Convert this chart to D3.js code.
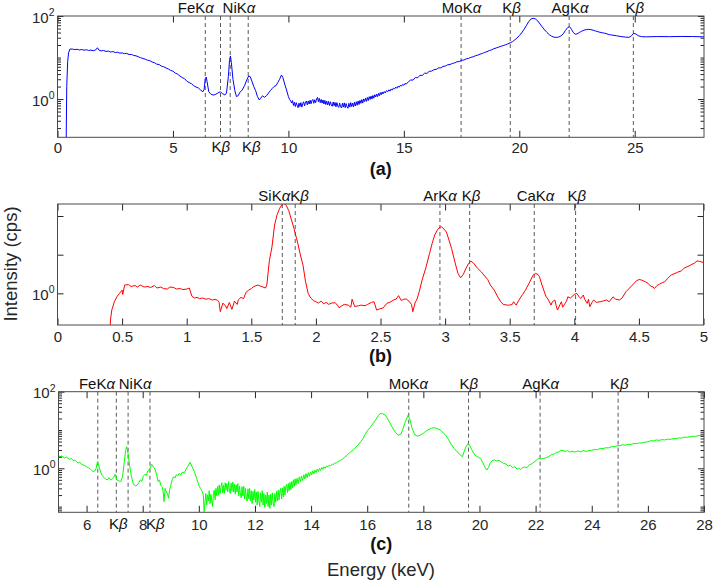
<!DOCTYPE html>
<html><head><meta charset="utf-8">
<script src="https://cdn.jsdelivr.net/npm/d3@7/dist/d3.min.js"></script>
<style>
body{margin:0;background:#fff}
svg{display:block}
text{font-family:"Liberation Sans",Arial,Helvetica,sans-serif}
</style>
</head><body>
<svg id="chart" width="715" height="585"></svg>
<script>
// ---------- DATA ----------
// (a) full spectrum, blue: [energy keV, intensity cps]
const spectrumA = [
[0.37,0.05],[0.40,2.0],[0.44,8],[0.48,13],[0.54,16],[0.65,16.0],[0.75,15.5],[0.85,15.8],[0.95,15.2],[1.05,15.6],
[1.15,15.0],[1.25,15.4],[1.35,14.8],[1.45,15.1],[1.55,14.6],[1.65,15.2],[1.73,17.2],[1.80,15.0],[1.90,14.5],[2.00,14.8],
[2.10,14.0],[2.20,14.3],[2.30,13.6],[2.40,13.9],[2.50,13.2],[2.60,13.4],[2.70,12.8],[2.80,12.9],[2.90,12.4],[3.00,12.6],
[3.10,11.8],[3.20,11.9],[3.30,11.2],[3.40,11.0],[3.50,10.4],[3.60,9.9],[3.70,9.5],[3.80,9.1],[3.90,8.6],[4.00,8.4],
[4.10,7.8],[4.20,7.5],[4.30,6.9],[4.40,6.8],[4.50,6.2],[4.60,6.0],[4.70,5.6],[4.80,5.3],[4.90,4.9],[5.00,4.7],
[5.10,4.2],[5.20,4.0],[5.30,3.6],[5.40,3.3],[5.50,3.1],[5.60,2.7],[5.70,2.5],[5.80,2.35],[5.90,2.1],[6.00,1.95],
[6.10,1.85],[6.20,1.65],[6.30,1.5],[6.35,1.7],[6.40,3.1],[6.44,3.4],[6.48,2.6],[6.55,1.5],[6.65,1.3],[6.75,1.25],
[6.85,1.3],[6.95,1.4],[7.05,1.5],[7.15,1.35],[7.25,1.25],[7.32,1.4],[7.40,3.5],[7.45,8.5],[7.49,10.9],[7.53,7.5],
[7.60,3.0],[7.68,1.6],[7.75,1.15],[7.82,1.2],[7.90,1.45],[8.00,1.65],[8.10,2.1],[8.20,2.9],[8.28,3.6],[8.34,3.5],
[8.42,2.7],[8.50,2.0],[8.58,1.6],[8.66,1.15],[8.74,0.95],[8.80,1.05],[8.88,1.2],[8.96,1.1],[9.05,1.2],[9.14,1.4],
[9.22,1.6],[9.30,1.8],[9.38,2.0],[9.46,2.1],[9.54,2.5],[9.62,3.0],[9.70,3.8],[9.76,3.3],[9.84,2.3],[9.92,1.65],
[10.00,1.15],[10.05,0.98],[10.10,0.90],[10.14,0.80],[10.18,0.92],[10.22,0.70],[10.26,0.84],[10.30,0.66],[10.34,0.82],[10.38,0.70],
[10.42,0.62],[10.46,0.80],[10.50,0.66],[10.54,0.82],[10.58,0.64],[10.62,0.78],[10.66,0.86],[10.70,0.68],[10.74,0.84],[10.78,0.90],
[10.82,0.72],[10.86,0.90],[10.90,0.76],[10.94,0.94],[10.98,0.77],[11.02,0.92],[11.06,0.98],[11.10,0.79],[11.14,0.96],[11.18,0.82],
[11.22,1.0],[11.26,1.1],[11.30,0.86],[11.34,1.04],[11.38,0.82],[11.42,0.98],[11.46,0.80],[11.50,0.95],[11.54,0.76],[11.58,0.93],
[11.62,0.74],[11.66,0.89],[11.70,0.72],[11.74,0.88],[11.78,0.70],[11.82,0.86],[11.86,0.72],[11.90,0.67],[11.94,0.85],[11.98,0.69],
[12.02,0.83],[12.06,0.65],[12.10,0.82],[12.14,0.68],[12.18,0.63],[12.22,0.80],[12.26,0.66],[12.30,0.61],[12.34,0.79],[12.38,0.64],
[12.42,0.81],[12.46,0.62],[12.50,0.78],[12.54,0.65],[12.58,0.60],[12.62,0.79],[12.66,0.64],[12.70,0.82],[12.74,0.66],[12.78,0.80],
[12.82,0.65],[12.86,0.84],[12.90,0.68],[12.94,0.86],[12.98,0.71],[13.02,0.90],[13.06,0.74],[13.10,0.93],[13.14,0.79],[13.18,0.97],
[13.22,0.80],[13.26,1.01],[13.30,0.87],[13.34,1.05],[13.38,0.88],[13.42,1.09],[13.46,0.92],[13.50,1.14],[13.54,0.98],[13.58,1.18],
[13.62,1.0],[13.66,1.22],[13.70,1.05],[13.74,1.27],[13.78,1.12],[13.82,1.32],[13.86,1.14],[13.90,1.37],[13.94,1.2],[13.98,1.43],
[14.02,1.27],[14.06,1.48],[14.10,1.33],[14.15,1.52],[14.20,1.40],[14.25,1.6],[14.30,1.5],[14.35,1.67],[14.40,1.55],[14.45,1.75],
[14.50,1.64],[14.55,1.84],[14.60,1.75],[14.65,1.94],[14.70,1.82],[14.75,2.04],[14.80,1.93],[14.85,2.14],[14.90,2.05],[14.95,2.26],
[15.00,2.15],[15.05,2.38],[15.10,2.28],[15.20,2.62],[15.30,2.88],[15.40,2.86],[15.50,3.3],[15.60,3.25],[15.70,3.75],[15.80,3.7],
[15.90,4.2],[16.00,4.15],[16.10,4.65],[16.20,4.7],[16.30,5.1],[16.40,5.15],[16.50,5.6],[16.60,5.65],[16.70,6.1],[16.80,6.25],
[16.90,6.7],[17.00,6.8],[17.10,7.2],[17.20,7.4],[17.30,7.9],[17.40,8.0],[17.50,8.6],[17.60,8.7],[17.70,9.3],[17.80,9.5],
[17.90,10.1],[18.00,10.4],[18.10,11.0],[18.20,11.4],[18.30,12.1],[18.40,12.5],[18.50,13.3],[18.60,13.8],[18.70,14.7],[18.80,15.3],
[18.90,16.3],[19.00,17.0],[19.10,17.8],[19.20,18.6],[19.30,19.4],[19.40,20.2],[19.50,21.3],[19.60,22.5],[19.70,24.0],[19.80,26.5],
[19.90,29.5],[20.00,33.5],[20.10,39],[20.20,47],[20.30,58],[20.40,72],[20.50,84],[20.60,88],[20.70,85],[20.80,76],
[20.90,64],[21.00,54],[21.10,46],[21.20,40],[21.30,35.5],[21.40,32.5],[21.50,31],[21.60,30.5],[21.70,31],[21.80,33],
[21.90,37],[22.00,45],[22.10,53],[22.18,55],[22.26,48],[22.34,40],[22.42,36.5],[22.50,37],[22.60,40],[22.70,43],
[22.80,45.5],[22.90,47],[23.00,47.7],[23.10,47],[23.20,45.5],[23.30,43.5],[23.40,42],[23.50,40.5],[23.60,39.5],[23.70,38.5],
[23.80,37],[23.90,35.5],[24.00,34.9],[24.20,33.5],[24.40,32],[24.60,31],[24.75,30.6],[24.85,33],[24.95,38],[25.05,37],
[25.15,33.5],[25.30,31.8],[25.50,31.5],[26.00,32],[26.50,31.8],[27.00,32.2],[27.50,32],[28.00,31.5]
];
// (b) low-energy spectrum, red
const spectrumB = [
[0.40,0.30],[0.41,0.62],[0.42,0.74],[0.44,0.86],[0.46,0.94],[0.48,1.00],[0.50,1.06],[0.505,0.98],[0.52,1.16],[0.55,1.17],
[0.57,1.13],[0.60,1.15],[0.62,1.12],[0.64,1.16],[0.67,1.12],[0.70,1.13],[0.72,1.11],[0.75,1.15],[0.77,1.10],[0.80,1.12],
[0.82,1.09],[0.85,1.08],[0.87,1.12],[0.90,1.11],[0.92,1.08],[0.95,1.09],[0.97,1.07],[1.00,1.08],[1.02,1.10],[1.04,0.95],
[1.06,0.92],[1.08,0.93],[1.10,0.91],[1.12,0.92],[1.15,0.90],[1.17,0.91],[1.20,0.887],[1.22,0.90],[1.24,0.88],[1.25,0.86],
[1.26,0.72],[1.28,0.84],[1.30,0.80],[1.31,0.76],[1.33,0.85],[1.35,0.75],[1.37,0.87],[1.39,0.82],[1.40,0.89],[1.42,0.93],
[1.44,0.91],[1.46,1.02],[1.48,1.06],[1.50,1.09],[1.52,1.13],[1.55,1.16],[1.57,1.14],[1.59,1.12],[1.61,1.10],[1.62,1.16],
[1.64,1.8],[1.66,2.3],[1.68,3.4],[1.70,4.1],[1.72,4.6],[1.74,4.95],[1.75,5.02],[1.77,4.85],[1.79,4.4],[1.80,4.07],
[1.83,3.21],[1.86,2.45],[1.88,1.99],[1.90,1.66],[1.92,1.23],[1.94,1.0],[1.96,0.92],[1.98,0.88],[2.00,0.86],[2.02,0.84],
[2.04,0.87],[2.06,0.83],[2.08,0.85],[2.10,0.82],[2.12,0.84],[2.15,0.845],[2.17,0.80],[2.18,0.772],[2.20,0.80],[2.22,0.82],
[2.25,0.81],[2.27,0.78],[2.28,0.90],[2.30,0.79],[2.33,0.80],[2.35,0.81],[2.38,0.80],[2.40,0.82],[2.43,0.85],[2.45,0.86],
[2.47,0.741],[2.49,0.755],[2.52,0.77],[2.55,0.836],[2.58,0.86],[2.60,0.887],[2.62,0.90],[2.64,0.96],[2.66,0.88],[2.68,0.90],
[2.70,0.903],[2.72,0.87],[2.74,0.82],[2.75,0.719],[2.77,0.86],[2.78,0.887],[2.80,1.03],[2.82,1.25],[2.85,1.57],[2.88,2.05],
[2.90,2.45],[2.92,2.85],[2.94,3.11],[2.96,3.28],[2.97,3.30],[2.99,3.18],[3.01,3.0],[3.03,2.6],[3.05,2.24],[3.07,1.85],
[3.09,1.55],[3.10,1.43],[3.12,1.32],[3.14,1.40],[3.16,1.55],[3.18,1.70],[3.20,1.78],[3.22,1.72],[3.25,1.57],[3.28,1.47],
[3.30,1.39],[3.33,1.28],[3.35,1.16],[3.38,1.06],[3.40,0.97],[3.43,0.86],[3.45,0.82],[3.48,0.81],[3.50,0.81],[3.52,0.82],
[3.53,0.86],[3.55,0.81],[3.57,0.88],[3.58,0.914],[3.60,0.98],[3.62,1.05],[3.65,1.20],[3.68,1.38],[3.70,1.43],[3.72,1.40],
[3.73,1.35],[3.75,1.16],[3.78,0.95],[3.80,0.887],[3.82,0.81],[3.83,0.86],[3.85,0.887],[3.86,0.80],[3.87,0.741],[3.89,0.82],
[3.90,0.86],[3.91,0.78],[3.92,0.81],[3.94,0.87],[3.95,0.94],[3.97,0.92],[4.00,0.98],[4.02,1.0],[4.04,0.93],[4.05,0.914],
[4.07,0.97],[4.08,0.90],[4.10,0.836],[4.11,0.90],[4.12,0.786],[4.14,0.86],[4.15,0.887],[4.17,0.85],[4.20,0.86],[4.22,0.87],
[4.25,0.887],[4.27,0.86],[4.30,0.94],[4.32,0.90],[4.35,0.887],[4.37,0.92],[4.40,1.03],[4.42,1.08],[4.45,1.16],[4.48,1.25],
[4.50,1.28],[4.52,1.27],[4.55,1.23],[4.57,1.20],[4.59,1.14],[4.61,1.12],[4.62,1.09],[4.64,1.15],[4.66,1.18],[4.68,1.21],
[4.70,1.23],[4.72,1.30],[4.75,1.39],[4.78,1.43],[4.80,1.46],[4.83,1.50],[4.85,1.57],[4.88,1.62],[4.90,1.66],[4.93,1.72],
[4.95,1.79],[4.97,1.77],[5.00,1.74]
];
// (c) filtered spectrum, green
const spectrumC = [
[5.00,2.23],[5.05,1.95],[5.10,2.1],[5.16,2.0],[5.22,1.85],[5.28,1.98],[5.34,1.8],[5.40,1.72],[5.46,1.82],[5.52,1.6],
[5.58,1.65],[5.64,1.5],[5.70,1.38],[5.76,1.45],[5.82,1.28],[5.88,1.22],[5.94,1.18],[6.00,1.1],[6.06,1.04],[6.12,0.98],
[6.18,0.88],[6.24,0.82],[6.30,0.86],[6.34,1.0],[6.39,1.49],[6.44,1.15],[6.50,0.8],[6.56,0.64],[6.62,0.58],[6.68,0.52],
[6.74,0.5],[6.80,0.57],[6.86,0.49],[6.92,0.54],[6.96,0.58],[7.02,0.7],[7.08,0.5],[7.15,0.47],[7.22,0.45],[7.28,0.6],
[7.34,1.4],[7.39,2.9],[7.43,3.68],[7.48,2.4],[7.54,1.1],[7.60,0.6],[7.67,0.38],[7.74,0.35],[7.80,0.36],[7.86,0.42],
[7.92,0.5],[7.97,0.46],[8.02,0.62],[8.08,0.7],[8.13,0.66],[8.18,0.85],[8.24,0.92],[8.32,1.27],[8.38,1.1],[8.44,0.95],
[8.50,0.66],[8.55,0.45],[8.60,0.5],[8.64,0.36],[8.70,0.32],[8.73,0.24],[8.76,0.135],[8.80,0.3],[8.84,0.24],[8.88,0.22],
[8.92,0.165],[8.96,0.28],[9.00,0.36],[9.05,0.5],[9.10,0.6],[9.15,0.56],[9.20,0.68],[9.25,0.64],[9.30,0.74],[9.36,0.68],
[9.42,0.8],[9.48,0.76],[9.54,0.92],[9.60,1.1],[9.69,1.43],[9.76,1.1],[9.84,0.82],[9.92,0.55],[10.00,0.36],[10.06,0.30],
[10.12,0.25],[10.16,0.2],[10.19,0.074],[10.22,0.13],[10.25,0.22],[10.28,0.11],[10.31,0.2],[10.34,0.14],[10.37,0.26],[10.40,0.12],
[10.43,0.21],[10.46,0.15],[10.49,0.10],[10.52,0.22],[10.55,0.27],[10.58,0.15],[10.61,0.30],[10.64,0.19],[10.67,0.34],[10.70,0.20],
[10.73,0.37],[10.76,0.22],[10.79,0.33],[10.82,0.42],[10.85,0.23],[10.88,0.36],[10.91,0.22],[10.94,0.42],[10.97,0.27],[11.00,0.40],
[11.03,0.24],[11.06,0.45],[11.09,0.27],[11.12,0.22],[11.15,0.41],[11.18,0.26],[11.21,0.44],[11.24,0.24],[11.27,0.38],[11.30,0.21],
[11.33,0.37],[11.36,0.24],[11.39,0.40],[11.42,0.19],[11.45,0.34],[11.48,0.22],[11.51,0.17],[11.54,0.33],[11.57,0.19],[11.60,0.34],
[11.63,0.16],[11.66,0.30],[11.69,0.18],[11.72,0.14],[11.75,0.29],[11.78,0.16],[11.81,0.30],[11.84,0.14],[11.87,0.26],[11.90,0.12],
[11.93,0.25],[11.96,0.15],[11.99,0.28],[12.02,0.13],[12.05,0.24],[12.08,0.11],[12.11,0.25],[12.14,0.14],[12.17,0.10],[12.20,0.23],
[12.23,0.13],[12.26,0.26],[12.29,0.11],[12.32,0.22],[12.35,0.095],[12.38,0.20],[12.41,0.12],[12.44,0.24],[12.47,0.10],[12.50,0.20],
[12.53,0.09],[12.56,0.21],[12.59,0.11],[12.62,0.23],[12.65,0.12],[12.68,0.10],[12.71,0.22],[12.74,0.13],[12.77,0.25],[12.80,0.14],
[12.83,0.27],[12.86,0.15],[12.89,0.25],[12.92,0.30],[12.95,0.16],[12.98,0.31],[13.01,0.18],[13.04,0.34],[13.07,0.20],[13.10,0.33],
[13.13,0.38],[13.16,0.23],[13.19,0.40],[13.22,0.26],[13.25,0.43],[13.28,0.28],[13.31,0.45],[13.34,0.31],[13.37,0.50],[13.40,0.34],
[13.43,0.53],[13.46,0.37],[13.50,0.55],[13.54,0.40],[13.58,0.60],[13.62,0.44],[13.66,0.63],[13.70,0.48],[13.74,0.68],[13.78,0.53],
[13.82,0.73],[13.86,0.57],[13.90,0.77],[13.94,0.62],[13.98,0.81],[14.02,0.67],[14.06,0.86],[14.10,0.72],[14.14,0.90],[14.18,0.78],
[14.22,0.95],[14.26,0.82],[14.30,1.0],[14.34,0.88],[14.38,1.05],[14.42,0.94],[14.46,1.1],[14.50,1.0],[14.55,1.14],[14.60,1.1],
[14.65,1.22],[14.70,1.16],[14.75,1.29],[14.80,1.27],[14.85,1.37],[14.90,1.4],[14.96,1.5],[15.04,1.6],[15.12,1.75],[15.20,1.95],
[15.28,2.2],[15.36,2.5],[15.44,2.8],[15.52,3.1],[15.60,3.6],[15.68,4.1],[15.76,4.9],[15.84,5.8],[15.92,7.5],[16.00,9.5],
[16.10,11.5],[16.20,14.5],[16.30,18.5],[16.40,24],[16.46,27],[16.55,26.5],[16.64,24.7],[16.75,18.5],[16.88,12.2],[17.00,8.8],
[17.10,7.3],[17.20,7.8],[17.28,11],[17.36,16.5],[17.45,24],[17.52,19],[17.60,11],[17.70,7.4],[17.80,6.9],[17.90,7.4],
[18.00,8.2],[18.10,9.5],[18.20,10.4],[18.30,11.2],[18.40,11.5],[18.50,10.8],[18.60,10.0],[18.70,8.5],[18.80,7.3],[18.90,5.6],
[19.00,4.1],[19.10,3.3],[19.20,2.7],[19.30,2.3],[19.39,2.0],[19.46,2.8],[19.52,3.7],[19.60,4.5],[19.66,3.9],[19.72,3.1],
[19.80,2.4],[19.88,2.1],[19.96,1.95],[20.04,1.8],[20.12,1.4],[20.20,1.05],[20.26,0.9],[20.32,1.05],[20.38,1.35],[20.46,1.6],
[20.54,1.65],[20.62,1.55],[20.70,1.6],[20.78,1.45],[20.86,1.35],[20.94,1.3],[21.02,1.15],[21.10,1.2],[21.18,1.05],[21.26,1.1],
[21.34,0.95],[21.40,1.02],[21.46,0.92],[21.54,1.05],[21.62,1.08],[21.70,1.05],[21.78,1.25],[21.86,1.3],[21.94,1.45],[22.02,1.6],
[22.10,1.82],[22.18,1.75],[22.26,1.8],[22.34,1.85],[22.42,1.95],[22.50,2.1],[22.58,2.3],[22.66,2.35],[22.74,2.6],[22.82,2.65],
[22.90,2.95],[22.98,2.9],[23.06,2.75],[23.14,2.9],[23.22,2.65],[23.30,2.8],[23.40,2.65],[23.50,2.85],[23.60,2.7],[23.70,2.9],
[23.80,2.75],[23.90,2.9],[24.00,2.95],[24.10,3.1],[24.20,3.05],[24.30,3.3],[24.40,3.25],[24.50,3.45],[24.60,3.4],[24.70,3.65],
[24.80,3.7],[24.90,3.85],[25.00,3.9],[25.10,4.1],[25.20,4.0],[25.30,4.25],[25.40,4.2],[25.50,4.45],[25.60,4.4],[25.70,4.6],
[25.80,4.6],[25.90,4.85],[26.00,4.9],[26.10,5.25],[26.20,5.2],[26.30,5.5],[26.40,5.35],[26.50,5.6],[26.60,5.5],[26.70,5.75],
[26.80,5.7],[26.90,5.95],[27.00,5.9],[27.10,6.2],[27.20,6.15],[27.30,6.5],[27.40,6.45],[27.60,6.85],[27.70,6.8],[27.80,7.2],
[27.90,7.1],[28.00,7.4]
];

// emission line energies (keV)
const linesA = [6.40,7.06,7.48,8.26,17.48,19.61,22.16,24.94];
const linesB = [1.74,1.84,2.96,3.19,3.69,4.01];
const linesC = [6.40,7.06,7.48,8.26,17.48,19.61,22.16,24.94];

// annotation labels and their anchor energies
const topLabelsA = ["FeKα","NiKα","MoKα","Kβ","AgKα","Kβ"];
const topLabelPosA = [5.99,7.86,17.5,19.66,22.2,25.0];
const bottomLabelsA = ["Kβ","Kβ"];
const bottomLabelPosA = [7.07,8.39];
const topLabelsB = ["SiKαKβ","ArKα","Kβ","CaKα","Kβ"];
const topLabelPosB = [1.75,2.96,3.2,3.70,4.02];
const topLabelsC = ["FeKα","NiKα","MoKα","Kβ","AgKα","Kβ"];
const topLabelPosC = [6.37,7.73,17.47,19.62,22.18,24.98];
const bottomLabelsC = ["Kβ","Kβ"];
const bottomLabelPosC = [7.13,8.45];

// tick values and labels
const xTicksA = [0,5,10,15,20,25];
const xTickLabelsA = ["0","5","10","15","20","25"];
const xTicksB = [0,0.5,1,1.5,2,2.5,3,3.5,4,4.5,5];
const xTickLabelsB = ["0","0.5","1","1.5","2","2.5","3","3.5","4","4.5","5"];
const xTicksC = [6,8,10,12,14,16,18,20,22,24,26,28];
const xTickLabelsC = ["6","8","10","12","14","16","18","20","22","24","26","28"];
const yMajorA = [1,100], yExpA = ["0","2"];
const yMajorB = [1,2,4], yExpB = ["0","",""];
const yMajorC = [1,100], yExpC = ["0","2"];
const panelTags = ["(a)","(b)","(c)"];

// ---------- DRAW ----------
const svg = d3.select("#chart");
const defs = svg.append("defs");
const INK = "#262626";

function addGreek(sel, str){
  str.split(/([αβ])/).filter(s => s.length).forEach(p => {
    const t = sel.append("tspan").text(p);
    if (/[αβ]/.test(p)) t.attr("font-style","italic");
  });
}

function logMinor(domain){
  const out = [];
  const lo = Math.floor(Math.log10(domain[0])), hi = Math.ceil(Math.log10(domain[1]));
  for (let k = lo; k <= hi; k++) for (let m = 1; m <= 9; m++){
    const v = m * Math.pow(10,k);
    if (v >= domain[0] && v <= domain[1]) out.push(v);
  }
  return out;
}

function drawPanel(p){
  const x = d3.scaleLinear().domain(p.xDomain).range(p.xRange);
  const y = d3.scaleLog().domain(p.yDomain).range(p.yRange);
  const [x0,x1] = p.xRange, [yb,yt] = p.yRange;
  const g = svg.append("g");
  const cid = "clip-" + p.id;
  defs.append("clipPath").attr("id",cid).append("rect")
    .attr("x",x0).attr("y",yt).attr("width",x1-x0).attr("height",yb-yt);

  g.append("g").selectAll("line").data(p.lines).join("line")
    .attr("x1",d=>x(d)).attr("x2",d=>x(d)).attr("y1",yt).attr("y2",yb)
    .attr("stroke","#5a5a5a").attr("stroke-width",1).attr("stroke-dasharray","4,3");

  g.append("path").datum(p.data)
    .attr("clip-path",`url(#${cid})`)
    .attr("fill","none").attr("stroke",p.color).attr("stroke-width",1)
    .attr("stroke-linejoin","round")
    .attr("d", d3.line().x(d=>x(d[0])).y(d=>y(d[1])));

  const style = sel => {
    sel.attr("font-family",'"Liberation Sans",Arial,sans-serif').attr("font-size",15);
    sel.select(".domain").remove();
    sel.selectAll(".tick line").attr("stroke",INK);
    sel.selectAll(".tick text").attr("fill",INK);
  };

  g.append("g").attr("transform",`translate(0,${yb})`)
    .call(d3.axisBottom(x).tickValues(p.xTicks).tickFormat((d,i)=>p.xTickLabels[i])
      .tickSize(-6.5).tickSizeOuter(0).tickPadding(p.xPad)).call(style);
  g.append("g").attr("transform",`translate(0,${yt})`)
    .call(d3.axisTop(x).tickValues(p.xTicks).tickFormat("").tickSize(-6.5).tickSizeOuter(0)).call(style);

  if (p.minor){
    const mv = logMinor(p.yDomain).filter(v => !p.yMajor.includes(v));
    g.append("g").attr("transform",`translate(${x0},0)`)
      .call(d3.axisLeft(y).tickValues(mv).tickFormat("").tickSize(-3.5).tickSizeOuter(0)).call(style);
    g.append("g").attr("transform",`translate(${x1},0)`)
      .call(d3.axisRight(y).tickValues(mv).tickFormat("").tickSize(-3.5).tickSizeOuter(0)).call(style);
  }
  const yl = g.append("g").attr("transform",`translate(${x0},0)`)
    .call(d3.axisLeft(y).tickValues(p.yMajor).tickFormat(()=>"").tickSize(-6).tickSizeOuter(0).tickPadding(3)).call(style);
  yl.selectAll(".tick text").each(function(d,i){
    const t = d3.select(this);
    if (!p.yExp[i]) return;
    t.attr("dy","0.4em");
    t.append("tspan").text("10");
    t.append("tspan").attr("font-size",10.5).attr("dy",-6.5).text(p.yExp[i]);
  });
  g.append("g").attr("transform",`translate(${x1},0)`)
    .call(d3.axisRight(y).tickValues(p.yMajor).tickFormat("").tickSize(-6).tickSizeOuter(0)).call(style);

  g.append("rect").attr("x",x0).attr("y",yt).attr("width",x1-x0).attr("height",yb-yt)
    .attr("fill","none").attr("stroke","#4a4a4a").attr("stroke-width",1);

  p.topLabels.forEach((s,i)=>{
    const t = g.append("text").attr("x",x(p.topPos[i])).attr("y",p.topY)
      .attr("text-anchor","middle").attr("font-size",15).attr("fill","#111");
    addGreek(t,s);
  });
  (p.bottomLabels||[]).forEach((s,i)=>{
    const t = g.append("text").attr("x",x(p.bottomPos[i])).attr("y",p.bottomY)
      .attr("text-anchor","middle").attr("font-size",15).attr("fill","#111");
    addGreek(t,s);
  });

  g.append("text").attr("x",(x0+x1)/2).attr("y",p.tagY).attr("text-anchor","middle")
    .attr("font-size",18).attr("font-weight","bold").attr("fill","#111").text(p.tag);
}

drawPanel({id:"a", data:spectrumA, color:"#0000ff",
  xDomain:[0,28], xRange:[57.5,704], yDomain:[0.12,100], yRange:[137.3,16],
  xTicks:xTicksA, xTickLabels:xTickLabelsA, xPad:4.8, yMajor:yMajorA, yExp:yExpA, minor:true,
  lines:linesA, topLabels:topLabelsA, topPos:topLabelPosA, topY:12.5,
  bottomLabels:bottomLabelsA, bottomPos:bottomLabelPosA, bottomY:151.5,
  tag:panelTags[0], tagY:175});

drawPanel({id:"b", data:spectrumB, color:"#ff0000",
  xDomain:[0,5], xRange:[57.5,703.5], yDomain:[0.567,4.96], yRange:[325,204],
  xTicks:xTicksB, xTickLabels:xTickLabelsB, xPad:6.3, yMajor:yMajorB, yExp:yExpB, minor:false,
  lines:linesB, topLabels:topLabelsB, topPos:topLabelPosB, topY:201,
  tag:panelTags[1], tagY:362});

drawPanel({id:"c", data:spectrumC, color:"#00ff00",
  xDomain:[5,28], xRange:[58.5,704], yDomain:[0.071,100], yRange:[512.3,391.7],
  xTicks:xTicksC, xTickLabels:xTickLabelsC, xPad:6.8, yMajor:yMajorC, yExp:yExpC, minor:true,
  lines:linesC, topLabels:topLabelsC, topPos:topLabelPosC, topY:389,
  bottomLabels:bottomLabelsC, bottomPos:bottomLabelPosC, bottomY:528.5,
  tag:panelTags[2], tagY:550});

svg.append("text").attr("x",381).attr("y",576).attr("text-anchor","middle")
  .attr("font-size",18.5).attr("fill",INK).text("Energy (keV)");
svg.append("text").attr("transform","translate(16.5,264) rotate(-90)").attr("text-anchor","middle")
  .attr("font-size",18.5).attr("fill",INK).text("Intensity (cps)");
</script>
</body></html>
